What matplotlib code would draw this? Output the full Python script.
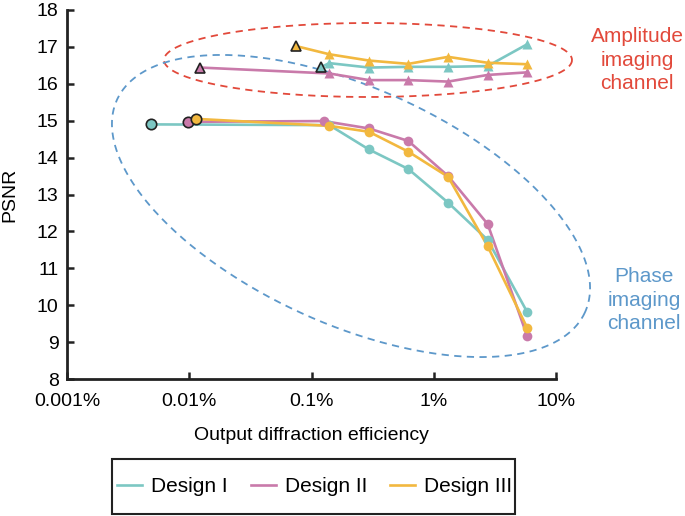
import numpy as np
import matplotlib
matplotlib.use("Agg")
import matplotlib.pyplot as plt
from matplotlib.ticker import FixedLocator, FixedFormatter
from matplotlib.patches import Rectangle

plt.rcParams['font.family'] = ['Liberation Sans', 'DejaVu Sans']

# efficacite en %, PSNR
eff = [0.14, 0.295, 0.62, 1.31, 2.76, 5.8]

# canal de phase (cercles), premier point = point entoure
phase_x1 = [0.00483] + eff
phase_y1 = [14.90, 14.88, 14.22, 13.69, 12.78, 11.77, 9.82]
phase_x2 = [0.00976, 0.126] + eff[1:]
phase_y2 = [14.97, 14.99, 14.79, 14.45, 13.50, 12.20, 9.17]
phase_x3 = [0.01128] + eff
phase_y3 = [15.05, 14.86, 14.70, 14.16, 13.48, 11.60, 9.39]

# canal d'amplitude (triangles)
amp_x1 = [0.1206] + eff
amp_y1 = [16.46, 16.56, 16.44, 16.46, 16.46, 16.48, 17.07]
amp_x2 = [0.01233] + eff
amp_y2 = [16.44, 16.28, 16.10, 16.10, 16.06, 16.24, 16.31]
amp_x3 = [0.0752] + eff
amp_y3 = [17.02, 16.80, 16.63, 16.54, 16.73, 16.57, 16.53]

noms = ["Design I", "Design II", "Design III"]
couleurs = ["#7cc7c3", "#c97aaa", "#f2b83f"]
xticks = [0.001, 0.01, 0.1, 1, 10]
xlabels = ["0.001%", "0.01%", "0.1%", "1%", "10%"]

W, H = 685, 516
fig = plt.figure(figsize=(W / 100, H / 100), dpi=100)
# axes en pixels : x 67 -> 556, y 10 -> 379
ax = fig.add_axes([67 / W, 1 - 379 / H, (556 - 67) / W, (379 - 10) / H])


def ellipse_px(cx, cy, a, b, angle_deg, **kw):
    # ellipse tracee en coordonnees pixel (y vers le bas), convertie en axes
    t = np.linspace(0, 2 * np.pi, 400)
    th = np.radians(angle_deg)
    xp = cx + a * np.cos(t) * np.cos(th) - b * np.sin(t) * np.sin(th)
    yp = cy + a * np.cos(t) * np.sin(th) + b * np.sin(t) * np.cos(th)
    fx = (xp - 67) / (556 - 67)
    fy = (379 - yp) / (379 - 10)
    ax.plot(fx, fy, transform=ax.transAxes, clip_on=False, lw=1.3, ls=(0, (4, 3)), zorder=1, **kw)


ellipse_px(368, 60, 204, 37, 0, color="#e2493b")
ellipse_px(351, 206, 257, 118, 24.4, color="#5d98ca")

series = [(phase_x1, phase_y1, amp_x1, amp_y1),
          (phase_x2, phase_y2, amp_x2, amp_y2),
          (phase_x3, phase_y3, amp_x3, amp_y3)]

for i, (px, py, qx, qy) in enumerate(series):
    c = couleurs[i]
    ax.plot(px, py, color=c, lw=1.9, zorder=3, label=noms[i])
    ax.plot(px[1:], py[1:], "o", color=c, ms=7, mec="none", zorder=4)
    ax.plot(px[:1], py[:1], "o", color=c, ms=7.5, mec="#222222", mew=1.2, zorder=5)
    ax.plot(qx, qy, color=c, lw=1.9, zorder=3)
    ax.plot(qx[1:], qy[1:], "^", color=c, ms=7.5, mec="none", zorder=4)
    ax.plot(qx[:1], qy[:1], "^", color=c, ms=7.5, mec="#222222", mew=1.2, zorder=5)

ax.set_xscale("log")
ax.set_xlim(0.001, 10)
ax.set_ylim(8, 18)
ax.xaxis.set_major_locator(FixedLocator(xticks))
ax.xaxis.set_major_formatter(FixedFormatter(xlabels))
ax.xaxis.set_minor_locator(FixedLocator([]))
ax.set_yticks(range(8, 19))

for s in ["top", "right"]:
    ax.spines[s].set_visible(False)
for s in ["left", "bottom"]:
    ax.spines[s].set_linewidth(2)
    ax.spines[s].set_color("#222222")
ax.tick_params(direction="in", length=5, width=1.8, color="#222222", labelsize=14)
ax.tick_params(axis="x", pad=10)
ax.tick_params(axis="y", pad=6)
ax.set_ylabel("PSNR", fontsize=14, labelpad=13)
ax.set_xlabel("Output diffraction efficiency", fontsize=14, labelpad=12)

fig.text(637 / W, 1 - 60 / H, "Amplitude\nimaging\nchannel", color="#e2493b",
         fontsize=15, ha="center", va="center", linespacing=1.3)
fig.text(644 / W, 1 - 300 / H, "Phase\nimaging\nchannel", color="#5d98ca",
         fontsize=15, ha="center", va="center", linespacing=1.3)

# cadre de la legende trace a la main
fig.patches.append(Rectangle((112 / W, 1 - 514 / H), (515 - 112) / W, (514 - 459) / H,
                             transform=fig.transFigure, fill=False, edgecolor="#222222", lw=1.5))
fig.legend(loc="center left", bbox_to_anchor=(112 / W, 1 - 486.5 / H), ncol=3,
           frameon=False, fontsize=15, handlelength=1.2, borderpad=0, borderaxespad=0.25,
           columnspacing=1.1, handletextpad=0.43)

fig.savefig("out.png", dpi=100)
